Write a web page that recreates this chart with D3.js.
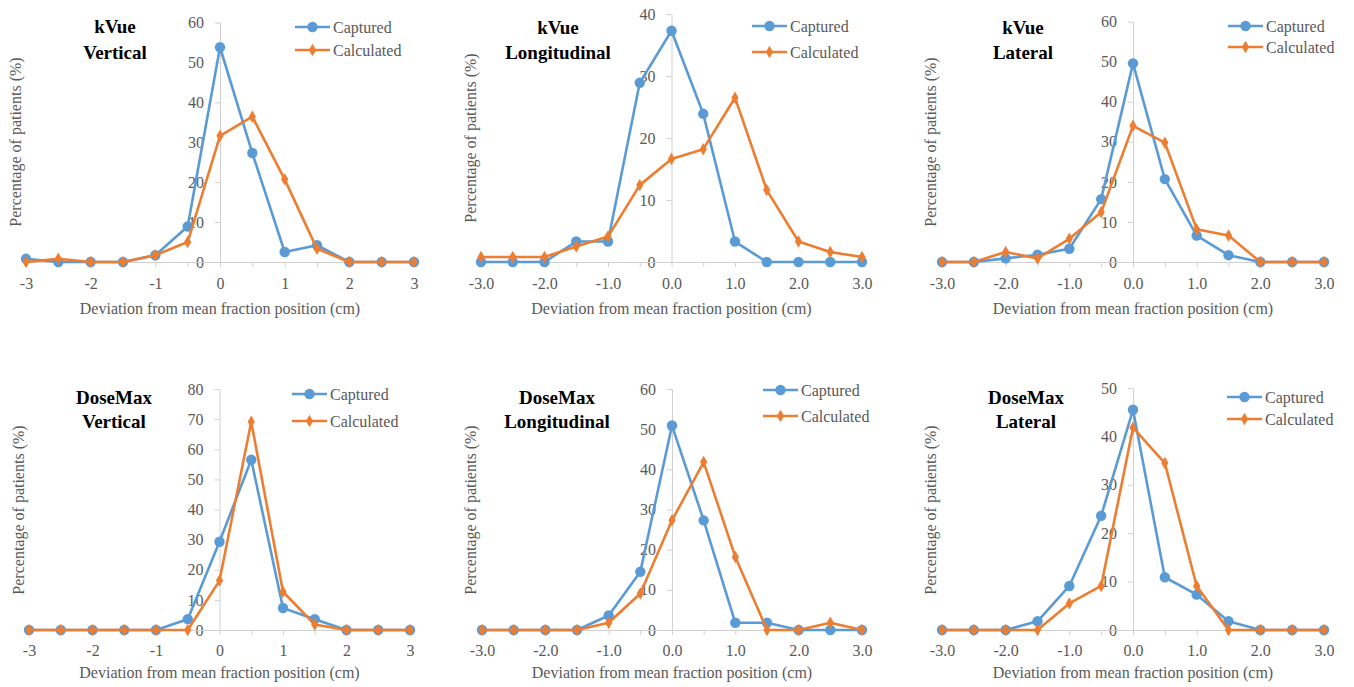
<!DOCTYPE html>
<html>
<head>
  <meta charset="utf-8">
  <script src="https://d3js.org/d3.v7.min.js"></script>
  <style>
    body { margin: 0; background: #fff; }
    svg text { font-family: "Liberation Serif", Tinos, "Times New Roman", Times, "DejaVu Serif", serif !important; }
  </style>
</head>
<body>
<script>
  // deviation categories (cm)
  var xValues = [-3, -2.5, -2, -1.5, -1, -0.5, 0, 0.5, 1, 1.5, 2, 2.5, 3];
  var xLabelsInt = ["-3", "-2", "-1", "0", "1", "2", "3"];
  var xLabelsDec = ["-3.0", "-2.0", "-1.0", "0.0", "1.0", "2.0", "3.0"];
  var seriesNames = ["Captured", "Calculated"];

  // percentage of patients
  var kVueVerticalCaptured       = [0.8, 0, 0, 0, 1.7, 8.9, 53.8, 27.3, 2.5, 4.2, 0, 0, 0];
  var kVueVerticalCalculated     = [0, 0.8, 0, 0, 1.7, 5.0, 31.6, 36.4, 20.7, 3.3, 0, 0, 0];
  var kVueLongCaptured           = [0, 0, 0, 3.3, 3.3, 28.9, 37.3, 23.9, 3.3, 0, 0, 0, 0];
  var kVueLongCalculated         = [0.8, 0.8, 0.8, 2.5, 4.1, 12.4, 16.6, 18.2, 26.5, 11.6, 3.3, 1.6, 0.8];
  var kVueLateralCaptured        = [0, 0, 0.9, 1.8, 3.3, 15.7, 49.6, 20.7, 6.6, 1.7, 0, 0, 0];
  var kVueLateralCalculated      = [0, 0, 2.5, 0.9, 5.8, 12.4, 34.0, 29.8, 8.2, 6.6, 0, 0, 0];
  var doseMaxVerticalCaptured    = [0, 0, 0, 0, 0, 3.6, 29.3, 56.5, 7.3, 3.6, 0, 0, 0];
  var doseMaxVerticalCalculated  = [0, 0, 0, 0, 0, 0, 16.4, 69.1, 12.7, 1.8, 0, 0, 0];
  var doseMaxLongCaptured        = [0, 0, 0, 0, 3.6, 14.5, 50.9, 27.3, 1.8, 1.8, 0, 0, 0];
  var doseMaxLongCalculated      = [0, 0, 0, 0, 1.8, 9.1, 27.3, 41.8, 18.2, 0, 0, 1.8, 0];
  var doseMaxLateralCaptured     = [0, 0, 0, 1.8, 9.1, 23.6, 45.5, 10.9, 7.3, 1.8, 0, 0, 0];
  var doseMaxLateralCalculated   = [0, 0, 0, 0, 5.5, 9.1, 41.8, 34.5, 9.1, 0, 0, 0, 0];

  var width = 1354, height = 687;
  var blue = "#5b9bd5", orange = "#ed7d31", gray = "#595959", axisGray = "#d0d0d0";
  var serif = '"Liberation Serif", Tinos, "Times New Roman", Times, "DejaVu Serif", serif';

  // layout of the six panels
  var panels = [
    { title: ["kVue", "Vertical"], s: [kVueVerticalCaptured, kVueVerticalCalculated], yMax: 60, labels: xLabelsInt,
      l: 26, r: 414, t: 22.5, b: 262, yt: [15, 142], tt: [115, 26, 52], lg: [295, 27, 50], xl: 283, xt: 308 },
    { title: ["kVue", "Longitudinal"], s: [kVueLongCaptured, kVueLongCalculated], yMax: 40, labels: xLabelsDec,
      l: 481, r: 862, t: 14, b: 262, yt: [470, 138], tt: [558, 27, 52], lg: [752, 26, 52], xl: 283, xt: 308 },
    { title: ["kVue", "Lateral"], s: [kVueLateralCaptured, kVueLateralCalculated], yMax: 60, labels: xLabelsDec,
      l: 942, r: 1324, t: 21.7, b: 262, yt: [930, 142], tt: [1023, 27, 52], lg: [1228, 26, 47], xl: 283, xt: 308 },
    { title: ["DoseMax", "Vertical"], s: [doseMaxVerticalCaptured, doseMaxVerticalCalculated], yMax: 80, labels: xLabelsInt,
      l: 29, r: 410, t: 389, b: 630, yt: [18, 510], tt: [114, 397, 421], lg: [292, 394, 421], xl: 650, xt: 672 },
    { title: ["DoseMax", "Longitudinal"], s: [doseMaxLongCaptured, doseMaxLongCalculated], yMax: 60, labels: xLabelsDec,
      l: 482, r: 862, t: 389, b: 630, yt: [470, 510], tt: [557, 397, 421], lg: [763, 390, 416], xl: 650, xt: 672 },
    { title: ["DoseMax", "Lateral"], s: [doseMaxLateralCaptured, doseMaxLateralCalculated], yMax: 50, labels: xLabelsDec,
      l: 942, r: 1324, t: 388, b: 630, yt: [930, 510], tt: [1026, 397, 421], lg: [1227, 397, 419], xl: 650, xt: 672 }
  ];

  var svg = d3.select("body").append("svg")
    .attr("width", width)
    .attr("height", height)
    .style("font-family", serif);

  var circle = d3.symbol().type(d3.symbolCircle).size(85);
  var diamond = d3.symbol().type(d3.symbolDiamond).size(45);

  function marker(g, i, x, y) {
    g.append("path")
      .attr("d", i === 0 ? circle() : diamond())
      .attr("transform", "translate(" + x + "," + y + ")")
      .attr("fill", i === 0 ? blue : orange);
  }

  panels.forEach(function(p) {
    var g = svg.append("g");
    var x = d3.scaleLinear().domain([-3, 3]).range([p.l, p.r]);
    var y = d3.scaleLinear().domain([0, p.yMax]).range([p.b, p.t]);

    // y axis sits at x = 0
    var yAxis = g.append("g")
      .attr("transform", "translate(" + x(0) + ",0)")
      .call(d3.axisLeft(y).tickValues(d3.range(0, p.yMax + 1, 10)).tickSize(5).tickSizeOuter(0).tickPadding(11));
    yAxis.attr("font-family", null).attr("font-size", null);
    yAxis.select(".domain").attr("stroke", axisGray);
    yAxis.selectAll(".tick line").attr("stroke", axisGray);
    yAxis.selectAll("text").attr("fill", gray).style("font-size", "16px").style("font-family", serif);

    // x axis with a tick at every category
    var xAxis = g.append("g")
      .attr("transform", "translate(0," + p.b + ")")
      .call(d3.axisBottom(x).tickValues(xValues).tickSize(5).tickSizeOuter(0)
        .tickFormat(function(d) { return Number.isInteger(d) ? p.labels[d + 3] : ""; }));
    xAxis.attr("font-family", null).attr("font-size", null);
    xAxis.select(".domain").attr("stroke", axisGray);
    xAxis.selectAll(".tick line").attr("stroke", axisGray);
    xAxis.selectAll("text").attr("fill", gray).attr("y", null).attr("dy", null)
      .attr("transform", "translate(0," + (p.xl - p.b) + ")")
      .attr("dominant-baseline", "central")
      .style("font-size", "16px").style("font-family", serif);

    g.append("text")
      .attr("x", (p.l + p.r) / 2).attr("y", p.xt)
      .attr("text-anchor", "middle").attr("dominant-baseline", "central")
      .attr("fill", gray).style("font-size", "16px").style("font-family", serif)
      .text("Deviation from mean fraction position (cm)");

    g.append("text")
      .attr("transform", "translate(" + p.yt[0] + "," + p.yt[1] + ") rotate(-90)")
      .attr("text-anchor", "middle").attr("dominant-baseline", "central")
      .attr("fill", gray).style("font-size", "16px").style("font-family", serif)
      .text("Percentage of patients (%)");

    // panel title
    p.title.forEach(function(t, k) {
      g.append("text")
        .attr("x", p.tt[0]).attr("y", p.tt[k + 1])
        .attr("text-anchor", "middle").attr("dominant-baseline", "central")
        .attr("fill", "#000").style("font-size", "19px").style("font-weight", "bold")
        .style("font-family", serif)
        .text(t);
    });

    // series
    var line = d3.line()
      .x(function(d, j) { return x(xValues[j]); })
      .y(function(d) { return y(d); });

    p.s.forEach(function(vals, i) {
      g.append("path")
        .datum(vals)
        .attr("d", line)
        .attr("fill", "none")
        .attr("stroke", i === 0 ? blue : orange)
        .attr("stroke-width", 2.6)
        .attr("stroke-linejoin", "round");
      vals.forEach(function(v, j) { marker(g, i, x(xValues[j]), y(v)); });
    });

    // legend
    seriesNames.forEach(function(name, i) {
      var ly = p.lg[i + 1];
      g.append("line")
        .attr("x1", p.lg[0]).attr("x2", p.lg[0] + 35)
        .attr("y1", ly).attr("y2", ly)
        .attr("stroke", i === 0 ? blue : orange).attr("stroke-width", 2.6);
      marker(g, i, p.lg[0] + 17.5, ly);
      g.append("text")
        .attr("x", p.lg[0] + 38).attr("y", ly)
        .attr("dominant-baseline", "central")
        .attr("fill", gray).style("font-size", "16px").style("font-family", serif)
        .text(name);
    });
  });
</script>
</body>
</html>
